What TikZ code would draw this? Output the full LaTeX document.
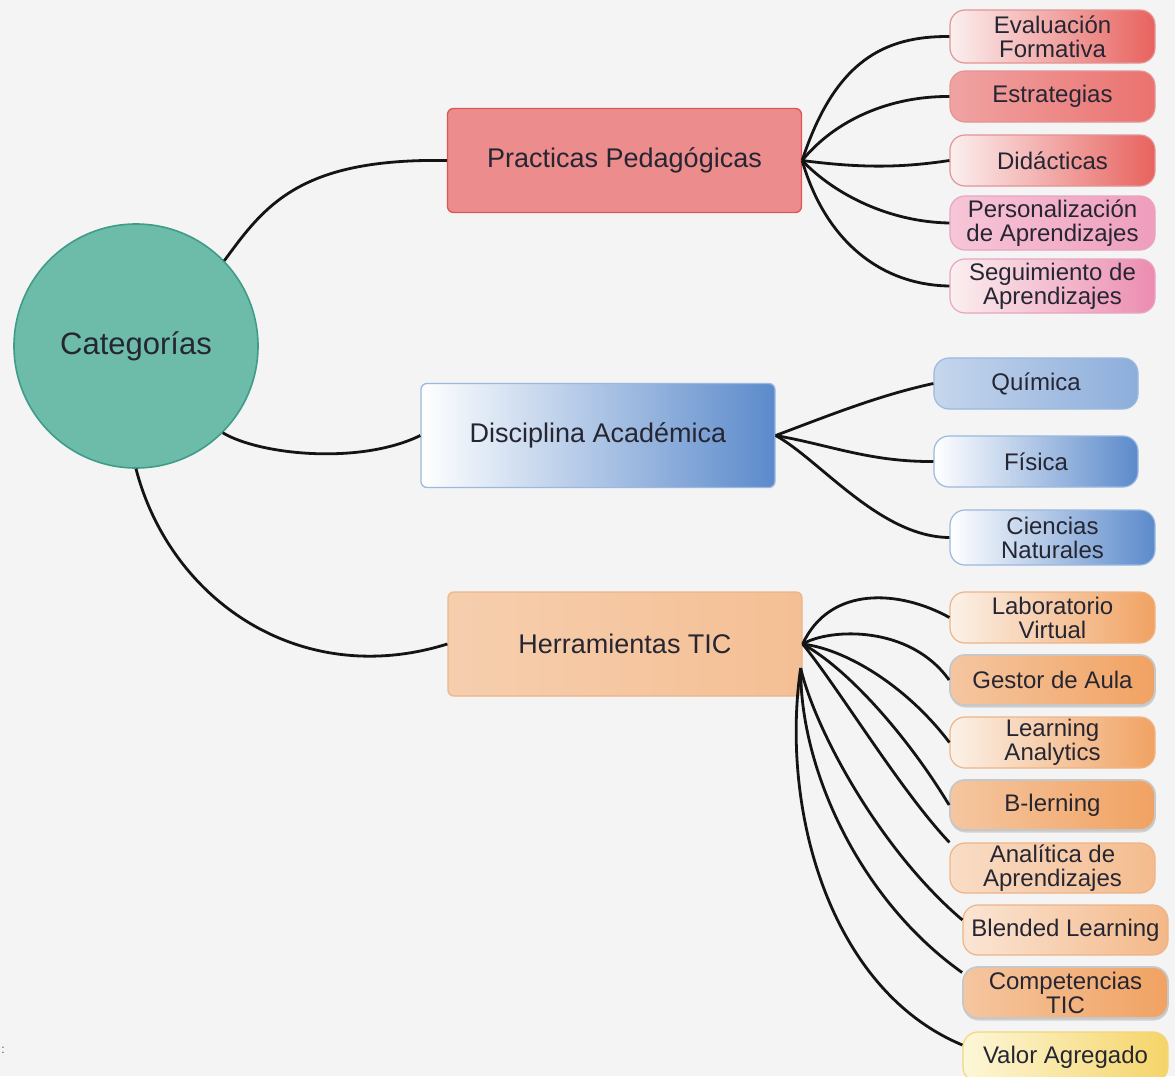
\documentclass[tikz,border=0pt]{standalone}
\usepackage{fontspec}
\setmainfont{Liberation Sans}
\usetikzlibrary{shadows,calc}
\definecolor{bg}{HTML}{F4F4F4}
\definecolor{txt}{HTML}{262633}
\definecolor{tealf}{HTML}{6DBCA9}
\definecolor{teald}{HTML}{3E9C88}
\definecolor{redf}{HTML}{EC8C8C}
\definecolor{redd}{HTML}{DD5656}
\definecolor{redr}{HTML}{E8625E}
\definecolor{redl}{HTML}{FBEFEF}
\definecolor{redb}{HTML}{E39494}
\definecolor{pinkr}{HTML}{EC8CB0}
\definecolor{pinkl}{HTML}{F7C6D8}
\definecolor{pinkb}{HTML}{E8A4C2}
\definecolor{bluer}{HTML}{5B8ACB}
\definecolor{bluel}{HTML}{FFFFFF}
\definecolor{blueb}{HTML}{9AB8E0}
\definecolor{oranr}{HTML}{F1A262}
\definecolor{oranl}{HTML}{FBF1E8}
\definecolor{oranb}{HTML}{EDB488}
\definecolor{oranm}{HTML}{F5C6A0}
\definecolor{yelr}{HTML}{F5D468}
\definecolor{yell}{HTML}{FDF7D8}
\definecolor{yelb}{HTML}{F0D87A}
\tikzset{
  mainbox/.style={rectangle, rounded corners=6pt, minimum width=354pt, minimum height=104pt,
    line width=1.3pt, text=txt, font=\fontsize{27}{30}\selectfont, inner sep=0pt},
  leaf/.style={rectangle, rounded corners=15pt, minimum width=205pt, minimum height=51pt,
    line width=1.2pt, text=txt, align=center, font=\fontsize{24}{24}\selectfont, inner sep=0pt},
  embossed/.style={draw=black!22, line width=1.8pt,
    drop shadow={opacity=0.3, shadow xshift=0.5pt, shadow yshift=-2.5pt}},
  link/.style={line width=2.8pt, draw=black!92},
}
\begin{document}
\begin{tikzpicture}[x=1pt,y=-1pt]
\useasboundingbox (0,0) rectangle (1175,1076);
\clip (0,0) rectangle (1175,1076);
\fill[bg] (0,0) rectangle (1175,1076);

% central node
\node[circle, minimum size=244pt, fill=tealf, draw=teald, line width=1.6pt, text=txt,
  font=\fontsize{31}{34}\selectfont, inner sep=0pt] (cat) at (136,346) {Categorías};

% main categories
\node[mainbox, fill=redf, draw=redd] (pp) at (624.5,160.5) {Practicas Pedagógicas};
\node[mainbox, left color=bluel, right color=bluer, draw=blueb] (da) at (598,435.5) {Disciplina Académica};
\node[mainbox, left color=oranm!85!white, right color=oranm!80!oranr, draw=oranb] (ht) at (625,644) {Herramientas TIC};

% red leaves
\node[leaf, minimum height=53pt, left color=redl, right color=redr, draw=redb] (ef) at (1052.5,36.5) {Evaluación\\Formativa};
\node[leaf, left color=redf!80!white, right color=redr!90!white, draw=redb] (es) at (1052.5,96.5) {Estrategias};
\node[leaf, left color=redl, right color=redr, draw=redb] (di) at (1052.5,160.5) {Didácticas};
\node[leaf, minimum height=54pt, left color=pinkl, right color=pinkr!85!white, draw=pinkb] (pe) at (1052.5,223) {Personalización\\de Aprendizajes};
\node[leaf, minimum height=54pt, left color=redl, right color=pinkr, draw=pinkb] (se) at (1052.5,286) {Seguimiento de\\Aprendizajes};

% blue leaves
\node[leaf, minimum width=204pt, left color=bluer!35!white, right color=bluer!70!white, draw=blueb] (qu) at (1036,383.5) {Química};
\node[leaf, minimum width=204pt, left color=bluel, right color=bluer, draw=blueb] (fi) at (1036,461.5) {Física};
\node[leaf, minimum height=55pt, left color=bluel, right color=bluer, draw=blueb] (cn) at (1052.5,537.5) {Ciencias\\Naturales};

% orange leaves
\node[leaf, left color=oranl, right color=oranr, draw=oranb] (lv) at (1052.5,617.5) {Laboratorio\\Virtual};
\node[leaf, minimum height=50pt, embossed, left color=oranm, right color=oranr] (ga) at (1052.5,680) {Gestor de Aula};
\node[leaf, left color=oranl, right color=oranr, draw=oranb] (la) at (1052.5,742.5) {Learning\\Analytics};
\node[leaf, minimum height=50pt, embossed, left color=oranm, right color=oranr] (bl) at (1052.5,805) {B-lerning};
\node[leaf, minimum height=50pt, left color=oranm!60!white, right color=oranm!70!oranr, draw=oranb] (an) at (1052.5,868) {Analítica de\\Aprendizajes};
\node[leaf, minimum height=50pt, left color=oranm!45!white, right color=oranm!60!oranr, draw=oranb] (bd) at (1065.5,930) {Blended Learning};
\node[leaf, embossed, left color=oranm, right color=oranr] (ct) at (1065.5,992.5) {Competencias\\TIC};
\node[leaf, minimum height=50pt, left color=yell, right color=yelr, draw=yelb] (va) at (1065.5,1057) {Valor Agregado};

\node[font=\fontsize{12}{12}\selectfont, text=black!70, inner sep=0pt] (colon) at (3,1050) {:};

% connectors from center
\draw[link] (cat.44) .. controls (265,205) and (300,158) .. (pp.west);
\draw[link] (cat.-45) .. controls (260,455) and (360,465) .. (da.west);
\draw[link] (cat.south) .. controls (170,600) and (300,690) .. (ht.west);

% Practicas children
\draw[link] (pp.east) .. controls (835,60) and (885,36) .. (ef.west);
\draw[link] (pp.east) .. controls (835,120) and (890,96) .. (es.west);
\draw[link] (pp.east) .. controls (860,168) and (900,168) .. (di.west);
\draw[link] (pp.east) .. controls (835,195) and (890,222) .. (pe.west);
\draw[link] (pp.east) .. controls (825,240) and (880,285) .. (se.west);

% Disciplina children
\draw[link] (da.east) .. controls (830,415) and (880,395) .. (qu.west);
\draw[link] (da.east) .. controls (830,445) and (870,462) .. (fi.west);
\draw[link] (da.east) .. controls (820,460) and (880,537) .. (cn.west);

% Herramientas children
\coordinate (hb) at ($(ht.east)+(-2,24)$);
\draw[link] (ht.east) .. controls (830,585) and (900,590) .. (lv.west);
\draw[link] (ht.east) .. controls (830,628) and (910,625) .. (ga.west);
\draw[link] (ht.east) .. controls (850,650) and (910,690) .. (la.west);
\draw[link] (ht.east) .. controls (850,670) and (910,740) .. (bl.west);
\draw[link] (ht.east) .. controls (840,690) and (900,790) .. (an.north west);
\draw[link] (hb) .. controls (815,730) and (880,850) .. ($(bd.west)+(0,-10)$);
\draw[link] (hb) .. controls (800,770) and (860,900) .. ($(ct.west)+(0,-20)$);
\draw[link] (hb) .. controls (780,810) and (830,990) .. ($(va.west)+(0,-12)$);
\end{tikzpicture}
\end{document}
